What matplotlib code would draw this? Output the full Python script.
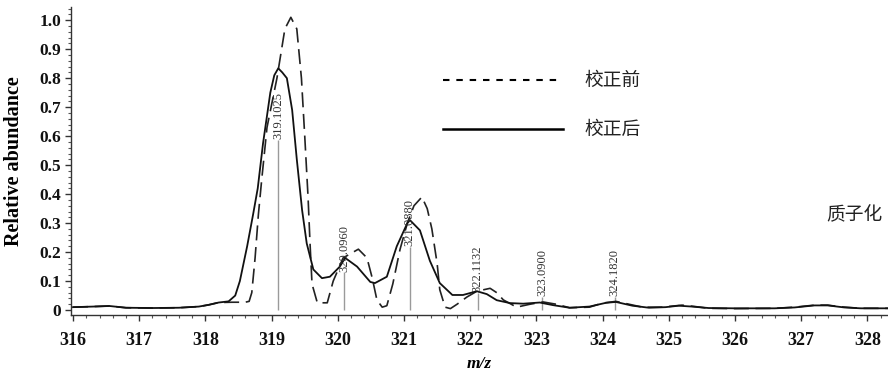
import matplotlib
matplotlib.use("Agg")
import matplotlib.pyplot as plt
from matplotlib.lines import Line2D
from matplotlib.ticker import MultipleLocator, FixedLocator

# 校正后 (after calibration)
mz_after = [316.0, 316.3, 316.55, 316.8, 317.2, 317.6, 317.9, 318.05, 318.2, 318.35,
            318.45, 318.52, 318.63, 318.72, 318.79, 318.87, 318.98, 319.04, 319.10, 319.16,
            319.23, 319.31, 319.38, 319.46, 319.53, 319.63, 319.76, 319.88, 320.03, 320.11,
            320.29, 320.49, 320.56, 320.74, 320.89, 321.05, 321.09, 321.24, 321.39, 321.54,
            321.73, 321.89, 322.1, 322.25, 322.4, 322.6, 322.8, 323.05, 323.25, 323.5,
            323.8, 324.05, 324.2, 324.45, 324.7, 324.95, 325.15, 325.35, 325.6, 326.0,
            326.6, 326.9, 327.2, 327.4, 327.65, 327.9, 328.31]
ab_after = [0.010, 0.012, 0.014, 0.008, 0.007, 0.008, 0.012, 0.018, 0.026, 0.030,
            0.05, 0.10, 0.22, 0.33, 0.42, 0.575, 0.75, 0.81, 0.834, 0.82,
            0.80, 0.69, 0.52, 0.345, 0.23, 0.14, 0.11, 0.115, 0.15, 0.18,
            0.15, 0.097, 0.093, 0.115, 0.22, 0.30, 0.31, 0.275, 0.17, 0.093,
            0.052, 0.052, 0.065, 0.055, 0.034, 0.024, 0.022, 0.026, 0.017, 0.008,
            0.012, 0.025, 0.028, 0.015, 0.008, 0.010, 0.015, 0.012, 0.007, 0.006,
            0.006, 0.009, 0.016, 0.016, 0.009, 0.006, 0.006]

# 校正前 (before calibration)
mz_before = [316.0, 316.3, 316.55, 316.8, 317.2, 317.6, 317.9, 318.05, 318.2, 318.4,
             318.6, 318.66, 318.70, 318.75, 318.80, 318.85, 318.93, 319.08, 319.2, 319.29,
             319.38, 319.45, 319.5, 319.55, 319.58, 319.61, 319.69, 319.84, 319.93, 320.08,
             320.31, 320.44, 320.52, 320.59, 320.67, 320.74, 320.83, 320.94, 321.05, 321.15,
             321.27, 321.35, 321.42, 321.5, 321.54, 321.62, 321.7, 321.8, 321.95, 322.1,
             322.3, 322.4, 322.5, 322.7, 322.9, 323.1, 323.3, 323.5, 323.8, 324.0,
             324.2, 324.4, 324.6, 324.9, 325.2, 325.4, 325.6, 326.0, 326.6, 326.9,
             327.2, 327.4, 327.6, 327.9, 328.31]
ab_before = [0.010, 0.012, 0.014, 0.008, 0.007, 0.008, 0.012, 0.018, 0.026, 0.027,
             0.027, 0.03, 0.06, 0.18, 0.33, 0.45, 0.63, 0.80, 0.97, 1.01,
             0.97, 0.80, 0.60, 0.39, 0.23, 0.09, 0.025, 0.025, 0.10, 0.18,
             0.21, 0.18, 0.11, 0.035, 0.01, 0.015, 0.09, 0.21, 0.30, 0.36,
             0.39, 0.35, 0.28, 0.16, 0.07, 0.01, 0.005, 0.02, 0.045, 0.065,
             0.075, 0.06, 0.035, 0.01, 0.02, 0.028, 0.02, 0.008, 0.01, 0.024,
             0.03, 0.02, 0.01, 0.01, 0.017, 0.012, 0.006, 0.005, 0.006, 0.01,
             0.017, 0.017, 0.011, 0.006, 0.006]

# annotated peaks: position, top of marker line
peak_mz = [319.1025, 320.0960, 321.0880, 322.1132, 323.0900, 324.1820]
peak_top = [0.586, 0.13, 0.217, 0.06, 0.045, 0.045]
peak_text = ["319.1025", "320.0960", "321.0880", "322.1132", "323.0900", "324.1820"]

legend_names = ["校正前", "校正后"]

serif = "Liberation Serif"
cjk = ["Noto Sans CJK SC", "DejaVu Sans"]

fig = plt.figure(figsize=(8.88, 3.77), dpi=100)
ax = fig.add_axes([0.08, 0.1645, 0.92, 0.8165])

ax.plot(mz_before, ab_before, color="#222222", lw=1.2, dashes=(9, 4), zorder=3)
ax.plot(mz_after, ab_after, color="#111111", lw=1.3, zorder=4)

for m, t, s in zip(peak_mz, peak_top, peak_text):
    ax.vlines(m, 0, t, color="#9a9a9a", lw=1.0, zorder=2)
    ax.text(m, t + 0.003, s, rotation=90, ha="center", va="bottom",
            fontsize=9, family=serif, color="#333333", zorder=5)

ax.set_xlim(315.97, 328.31)
ax.set_ylim(-0.017, 1.045)

ax.xaxis.set_major_locator(MultipleLocator(1))
ax.xaxis.set_minor_locator(MultipleLocator(0.2))
ax.yaxis.set_major_locator(FixedLocator([i / 10 for i in range(11)]))
ax.yaxis.set_minor_locator(MultipleLocator(0.02))
ax.set_yticklabels(["0"] + ["%.1f" % (i / 10) for i in range(1, 11)])

for sp in ["top", "right"]:
    ax.spines[sp].set_visible(False)
for sp in ["left", "bottom"]:
    ax.spines[sp].set_linewidth(1.0)
    ax.spines[sp].set_color("#333333")

ax.tick_params(axis="both", which="major", direction="out", length=4, width=1,
               colors="#333333", labelcolor="#111111")
ax.tick_params(axis="both", which="minor", direction="out", length=2, width=0.8,
               colors="#555555")
ax.tick_params(axis="x", pad=8)
ax.tick_params(axis="y", pad=3)
for lab in ax.get_xticklabels():
    lab.set_fontfamily(serif)
    lab.set_fontweight("bold")
    lab.set_fontsize(13)
for lab in ax.get_yticklabels():
    lab.set_fontfamily(serif)
    lab.set_fontweight("bold")
    lab.set_fontsize(12.5)

ax.set_ylabel("Relative abundance", family=serif, fontweight="bold", fontsize=14.5,
              labelpad=11)
ax.set_xlabel("m/z", family=serif, fontweight="bold", style="italic", fontsize=12.5,
              labelpad=5)

handles = [Line2D([], [], color="black", lw=1.5, dashes=(3.1, 3.3)),
           Line2D([], [], color="black", lw=1.8)]
leg = ax.legend(handles, legend_names, loc="upper left", bbox_to_anchor=(0.455, 0.795),
                frameon=False, handlelength=6.4, handletextpad=1.17, labelspacing=1.5,
                borderpad=0, borderaxespad=0,
                prop={"family": cjk, "size": 13.5})
for t in leg.get_texts():
    t.set_color("#222222")

ax.text(327.38, 0.33, "质子化", family=cjk, fontsize=13.5, color="#222222",
        ha="left", va="center", clip_on=False)

fig.savefig("out.png", dpi=100)
